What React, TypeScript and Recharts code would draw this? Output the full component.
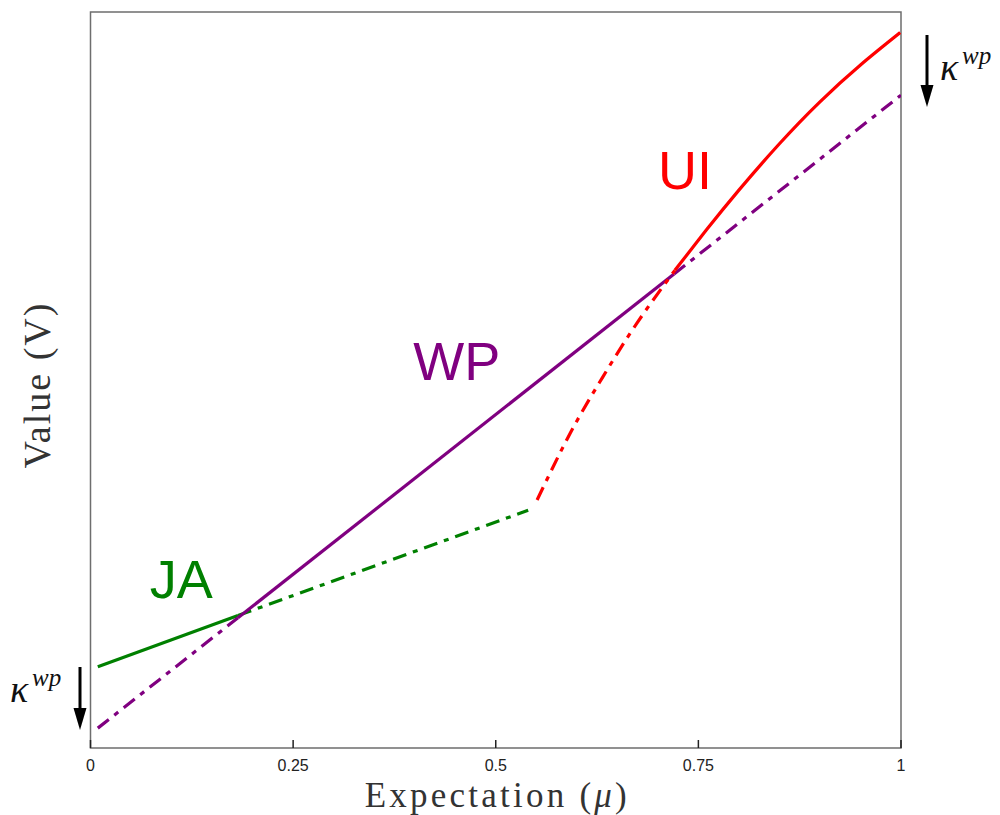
import React from "react";
import {
  LineChart,
  Line,
  XAxis,
  YAxis,
  ReferenceArea,
  ReferenceDot,
} from "recharts";

// Expectation (mu) and value (V) for each curve segment
const jaSolidMu = [0.009, 0.182];
const jaSolidV = [0.1105, 0.18];
const jaDashMu = [0.182, 0.54];
const jaDashV = [0.18, 0.323];

const wpLowMu = [0.009, 0.182];
const wpLowV = [0.027, 0.177];
const wpSolidMu = [0.182, 0.72];
const wpSolidV = [0.177, 0.644];
const wpHighMu = [0.72, 1.0];
const wpHighV = [0.644, 0.887];

const uiDashMu = [0.551, 0.592, 0.632, 0.674, 0.721];
const uiDashV = [0.337, 0.428, 0.504, 0.577, 0.649];
const uiSolidMu = [0.721, 0.76, 0.8, 0.85, 0.9, 0.95, 0.999];
const uiSolidV = [0.649, 0.704, 0.758, 0.821, 0.878, 0.928, 0.972];

const xTicks = [0, 0.25, 0.5, 0.75, 1];
const xTickLabels = ["0", "0.25", "0.5", "0.75", "1"];

// Region names and where their text baselines sit
const tagNames = ["JA", "WP", "UI"];
const tagMu = [0.112, 0.452, 0.7335];
const tagV = [0.2035, 0.4998, 0.759];

const GREEN = "#008000";
const PURPLE = "#800080";
const RED = "#ff0000";
const tagColors = [GREEN, PURPLE, RED];

const LINE_W = 3.2;
const DASH_DOT = "14 7 5 7";
const SERIF = "'Liberation Serif', 'Times New Roman', serif";
const SANS = "'Liberation Sans', Arial, Helvetica, sans-serif";
const BOX = "#6e6e6e";

const seg = (mu: number[], v: number[]) => mu.map((m, i) => ({ mu: m, v: v[i] }));

const BottomTick = (props: any) => {
  const { x, y, payload } = props;
  const idx = xTicks.indexOf(payload.value);
  return (
    <g>
      <line x1={x} x2={x} y1={y} y2={y - 8} stroke="#222" strokeWidth={1.5} />
      <text x={x} y={y + 23} textAnchor="middle" fontFamily={SANS} fontSize={16} fill="#222">
        {idx >= 0 ? xTickLabels[idx] : payload.value}
      </text>
    </g>
  );
};

const TopTick = (props: any) => {
  const { x, y } = props;
  return <line x1={x} x2={x} y1={y} y2={y + 8} stroke="#222" strokeWidth={1.5} />;
};

const tagLabel = (text: string, color: string) => (props: any) => {
  const { x, y } = props.viewBox;
  return (
    <text x={x} y={y} textAnchor="middle" fill={color} fontSize={54} fontFamily={SANS}>
      {text}
    </text>
  );
};

const XTitle = (props: any) => {
  const { x, width, y } = props.viewBox;
  return (
    <text
      x={x + width / 2}
      y={y + 59}
      textAnchor="middle"
      fontFamily={SERIF}
      fontSize={35}
      fill="#333"
      textLength={262}
      lengthAdjust="spacing"
    >
      Expectation (<tspan fontStyle="italic">μ</tspan>)
    </text>
  );
};

const YTitle = (props: any) => {
  const { x, y, height } = props.viewBox;
  const cx = x + 42;
  const cy = y + height / 2 + 6;
  return (
    <text
      x={cx}
      y={cy}
      transform={`rotate(-90 ${cx} ${cy})`}
      textAnchor="middle"
      fontFamily={SERIF}
      fontSize={38}
      fill="#333"
      textLength={165}
      lengthAdjust="spacing"
    >
      Value (V)
    </text>
  );
};

// κ^wp shift annotation with a downward arrow
const Kappa = ({ kx, ky, ax, ay1, ay2 }: { kx: number; ky: number; ax: number; ay1: number; ay2: number }) => (
  <g>
    <text x={kx} y={ky} fontFamily={SERIF} fontStyle="italic" fontSize={38} fill="#111">
      κ
    </text>
    <text x={kx + 22} y={ky - 16} fontFamily={SERIF} fontStyle="italic" fontSize={25} fill="#111">
      wp
    </text>
    <line x1={ax} x2={ax} y1={ay1} y2={ay2 - 18} stroke="#000" strokeWidth={3} />
    <polygon points={`${ax - 6.5},${ay2 - 22} ${ax + 6.5},${ay2 - 22} ${ax},${ay2}`} fill="#000" />
  </g>
);

export default function App() {
  const W = 992;
  const H = 807;
  return (
    <div style={{ position: "relative", width: W, height: H }}>
      <LineChart width={W} height={H} margin={{ top: 4, right: 99, bottom: 7, left: 0 }}>
        <XAxis
          dataKey="mu"
          type="number"
          domain={[0, 1]}
          ticks={xTicks}
          allowDataOverflow
          axisLine={false}
          tickLine={false}
          tickSize={0}
          tickMargin={0}
          height={60}
          tick={<BottomTick />}
          label={{ content: XTitle } as any}
        />
        <XAxis
          xAxisId="top"
          orientation="top"
          dataKey="mu"
          type="number"
          domain={[0, 1]}
          ticks={xTicks}
          axisLine={false}
          tickLine={false}
          tickSize={0}
          tickMargin={0}
          height={0}
          tick={<TopTick />}
        />
        <YAxis
          type="number"
          domain={[0, 1]}
          width={82.5}
          axisLine={false}
          tickLine={false}
          tick={false}
          label={{ content: YTitle } as any}
        />
        <ReferenceArea x1={0} x2={1} y1={0} y2={1} fill="none" fillOpacity={0} stroke={BOX} strokeWidth={1.5} />

        <Line data={seg(jaSolidMu, jaSolidV)} dataKey="v" stroke={GREEN} strokeWidth={LINE_W} dot={false} isAnimationActive={false} />
        <Line data={seg(jaDashMu, jaDashV)} dataKey="v" stroke={GREEN} strokeWidth={LINE_W} strokeDasharray={DASH_DOT} dot={false} isAnimationActive={false} />

        <Line data={seg(wpLowMu, wpLowV)} dataKey="v" stroke={PURPLE} strokeWidth={LINE_W} strokeDasharray={DASH_DOT} dot={false} isAnimationActive={false} />
        <Line data={seg(wpSolidMu, wpSolidV)} dataKey="v" stroke={PURPLE} strokeWidth={LINE_W} dot={false} isAnimationActive={false} />
        <Line data={seg(wpHighMu, wpHighV)} dataKey="v" stroke={PURPLE} strokeWidth={LINE_W} strokeDasharray={DASH_DOT} dot={false} isAnimationActive={false} />

        <Line data={seg(uiDashMu, uiDashV)} type="natural" dataKey="v" stroke={RED} strokeWidth={LINE_W} strokeDasharray={DASH_DOT} dot={false} isAnimationActive={false} />
        <Line data={seg(uiSolidMu, uiSolidV)} type="natural" dataKey="v" stroke={RED} strokeWidth={LINE_W} dot={false} isAnimationActive={false} />

        {tagNames.map((name, i) => (
          <ReferenceDot
            key={name}
            x={tagMu[i]}
            y={tagV[i]}
            r={0}
            fill="none"
            stroke="none"
            label={{ content: tagLabel(name, tagColors[i]) } as any}
          />
        ))}
      </LineChart>
      <svg
        width={W}
        height={H}
        style={{ position: "absolute", left: 0, top: 0, pointerEvents: "none", overflow: "visible" }}
      >
        <Kappa kx={2} ky={694} ax={72} ay1={659} ay2={722} />
        <Kappa kx={932} ky={72} ax={919} ay1={27} ay2={99} />
      </svg>
    </div>
  );
}
